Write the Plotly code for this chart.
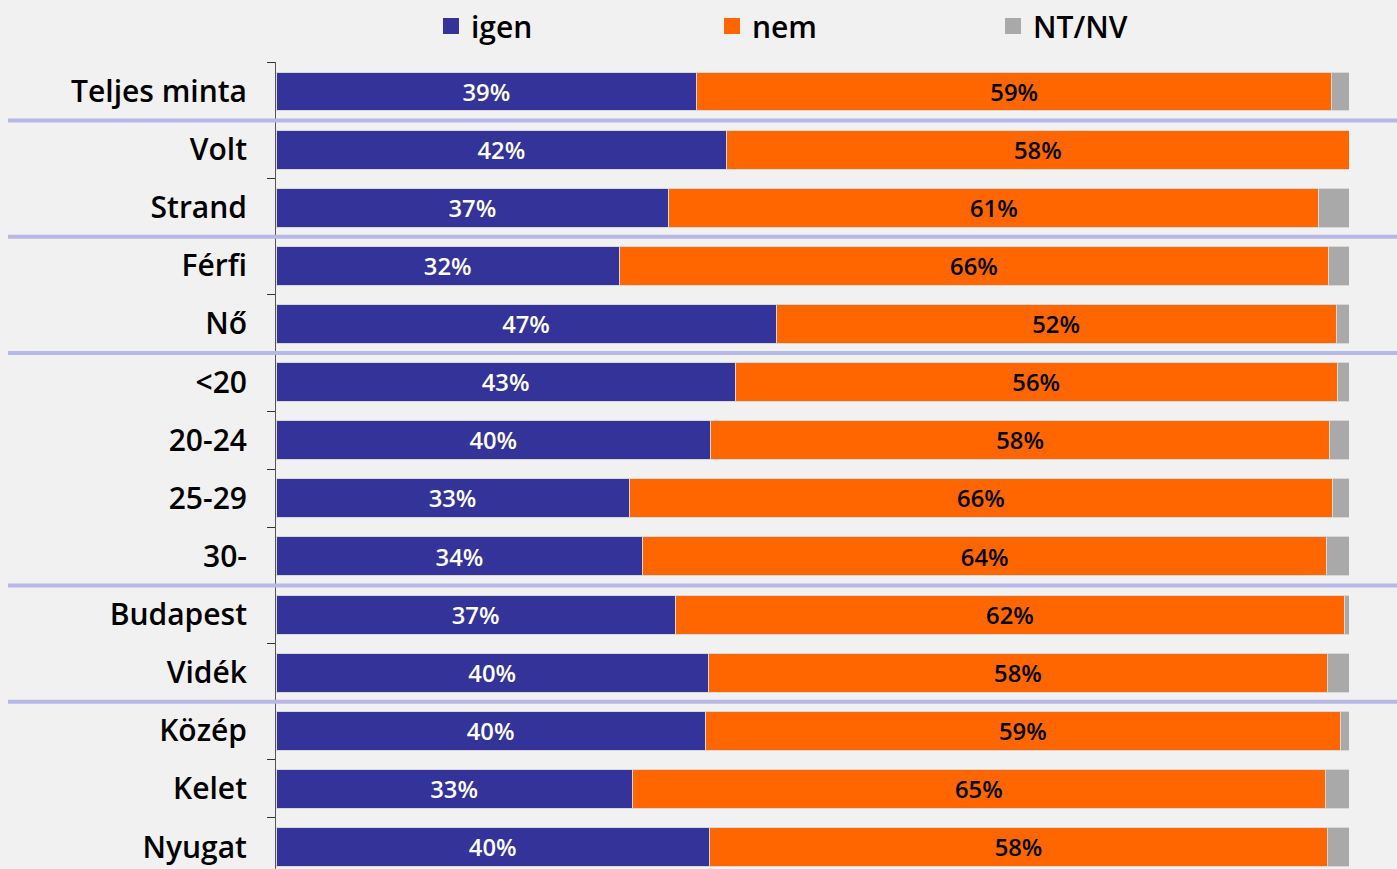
import plotly.graph_objects as go

categories = ["Teljes minta", "Volt", "Strand", "Férfi", "Nő", "<20", "20-24",
              "25-29", "30-", "Budapest", "Vidék", "Közép", "Kelet", "Nyugat"]
igen = [39.2, 42.0, 36.6, 32.0, 46.6, 42.8, 40.5, 32.9, 34.2, 37.2, 40.3, 40.0, 33.2, 40.4]
nem = [59.2, 58.0, 60.6, 66.1, 52.2, 56.1, 57.7, 65.6, 63.7, 62.4, 57.7, 59.2, 64.6, 57.6]
ntnv = [1.6, 0.0, 2.8, 1.9, 1.2, 1.1, 1.8, 1.5, 2.1, 0.4, 2.0, 0.8, 2.2, 2.0]
series_names = ["igen", "nem", "NT/NV"]
group_breaks = [0.5, 2.5, 4.5, 8.5, 10.5]

FONT = "Open Sans, Lato, Liberation Sans, sans-serif"
colors = ["#333399", "#ff6600", "#a9a9a9"]
text_colors = ["white", "black", "black"]

ypos = list(range(len(categories)))
fig = go.Figure()
for name, vals, col, tcol in zip(series_names, [igen, nem, ntnv], colors, text_colors):
    show_text = name != "NT/NV"
    fig.add_trace(go.Bar(
        y=ypos, x=vals, name=name, orientation="h", showlegend=False,
        marker=dict(color=col, line=dict(color="#d8d8d8", width=1)),
        text=[f"{round(v)}%" for v in vals] if show_text else None,
        textposition="inside" if show_text else "none",
        insidetextanchor="middle",
        textfont=dict(color=tcol, size=26, family=FONT, weight=600),
        hoverinfo="x+name",
    ))
# legend entries with larger square swatches
for name, col in zip(series_names, colors):
    fig.add_trace(go.Scatter(
        x=[None], y=[None], mode="markers", name=name,
        marker=dict(symbol="square", size=16, color=col),
        hoverinfo="skip",
    ))

for b in group_breaks:
    fig.add_shape(type="line", xref="paper", yref="y",
                  x0=(8 - 276) / 1073, x1=(1397 - 276) / 1073, y0=b, y1=b,
                  line=dict(color="#b8b8e6", width=4), layer="above")

fig.update_layout(
    barmode="stack",
    bargap=0.33,
    width=1397, height=869,
    paper_bgcolor="#f1f1f1", plot_bgcolor="#f1f1f1",
    margin=dict(l=276, r=48, t=61, b=0),
    font=dict(family=FONT, size=28, color="black"),
    showlegend=True,
    legend=dict(orientation="h", x=(431 - 276) / 1073, xanchor="left",
                y=1 + 36 / 808, yanchor="middle",
                entrywidth=236, entrywidthmode="pixels",
                font=dict(size=30, family=FONT, weight=600), traceorder="normal",
                bgcolor="rgba(0,0,0,0)", itemwidth=30),
    xaxis=dict(range=[0, 100], visible=False, fixedrange=True),
    yaxis=dict(range=[13.378, -0.507], tickmode="array", tickvals=ypos,
               ticktext=categories, ticks="", showgrid=False, zeroline=False,
               showline=True, linecolor="#555555", linewidth=1,
               ticklabelstandoff=22,
               tickfont=dict(size=30, family=FONT, color="black", weight=600),
               minor=dict(tickmode="linear", tick0=0.5, dtick=1, ticks="outside",
                          ticklen=8, tickcolor="#333333", showgrid=False)),
)

fig.write_html("out.html", config={"displayModeBar": False})
with open("out.html", "r", encoding="utf-8") as f:
    html = f.read()
html = html.replace("<head>", "<head><style>html,body{margin:0;padding:0;overflow:hidden;}</style>", 1)
with open("out.html", "w", encoding="utf-8") as f:
    f.write(html)
